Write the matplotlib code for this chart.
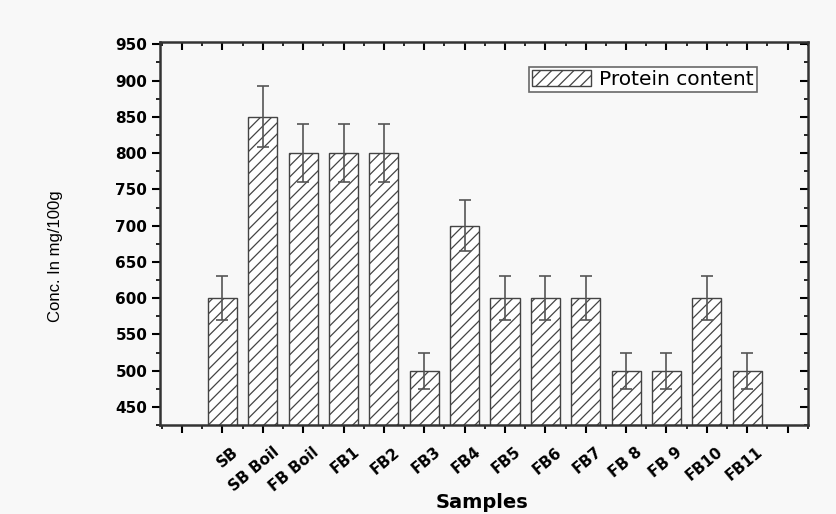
import matplotlib
matplotlib.use("Agg")
import matplotlib.pyplot as plt
import matplotlib.markers as mmarkers
import matplotlib.transforms as mtransforms
from matplotlib.ticker import MultipleLocator
import numpy as np

plt.rcParams['font.family'] = ['DejaVu Sans']
plt.rcParams['hatch.linewidth'] = 0.9
plt.rcParams['hatch.color'] = '#555555'

samples = ["SB", "SB Boil", "FB Boil", "FB1", "FB2", "FB3", "FB4", "FB5",
           "FB6", "FB7", "FB 8", "FB 9", "FB10", "FB11"]
protein = [600, 850, 800, 800, 800, 500, 700, 600, 600, 600, 500, 500, 600, 500]
errors = [30, 42, 40, 40, 40, 25, 35, 30, 30, 30, 25, 25, 30, 25]
yticks = [450, 500, 550, 600, 650, 700, 750, 800, 850, 900, 950]

bg = '#f8f8f8'
fig = plt.figure(figsize=(8.37, 5.14), dpi=100, facecolor=bg)
ax = fig.add_axes([0.191, 0.173, 0.774, 0.745], facecolor=bg)

x = np.arange(1, len(samples) + 1)
ax.bar(x, protein, width=0.72, color='white', edgecolor='#444444',
       linewidth=1.0, hatch='///', label='Protein content', zorder=2)
ax.errorbar(x, protein, yerr=errors, fmt='none', ecolor='#555555',
            elinewidth=1.2, capsize=4.3, capthick=1.2, zorder=3)

ax.set_xlim(-0.55, 15.5)
ax.set_ylim(425, 953)
ax.xaxis.set_minor_locator(MultipleLocator(0.5))
ax.yaxis.set_minor_locator(MultipleLocator(25))

ax.tick_params(axis='both', which='major', direction='out', length=6,
               width=1.5, top=True, right=True)
ax.tick_params(axis='both', which='minor', direction='out', length=3,
               width=1.2, top=True, right=True)
ax.tick_params(axis='x', which='major', pad=12)
ax.tick_params(axis='y', which='major', pad=3)

ax.set_xticks(np.arange(0, 16))
ax.set_xticklabels([''] + samples + [''], rotation=40, ha='right', va='center',
                   rotation_mode='anchor', fontsize=11, fontweight='bold')
shift = mtransforms.ScaledTranslation(14 / 100, 0, fig.dpi_scale_trans)
for lab in ax.get_xticklabels():
    lab.set_transform(lab.get_transform() + shift)
ax.set_yticks(yticks)
ax.set_yticklabels([str(v) for v in yticks], fontsize=11, fontweight='bold')

# top and right ticks point inwards
for t in ax.xaxis.get_major_ticks() + ax.xaxis.get_minor_ticks():
    t.tick2line.set_marker(mmarkers.TICKDOWN)
for t in ax.yaxis.get_major_ticks() + ax.yaxis.get_minor_ticks():
    t.tick2line.set_marker(mmarkers.TICKLEFT)

for s in ax.spines.values():
    s.set_linewidth(1.8)
    s.set_color('#333333')

ax.set_xlabel('Samples', fontsize=14, fontweight='bold')
ax.xaxis.set_label_coords(0.497, -0.178)
ax.xaxis.label.set_va('top')
ax.set_ylabel('Conc. In mg/100g', fontsize=12, family=['Liberation Sans'])
ax.yaxis.set_label_coords(-0.150, 0.44)

leg = ax.legend(loc='upper right', bbox_to_anchor=(0.921, 0.935), fontsize=14.5,
                frameon=True, fancybox=False, handlelength=2.9,
                handleheight=0.85, borderpad=0.15, handletextpad=0.4,
                borderaxespad=0)
leg.get_frame().set_edgecolor('#444444')
leg.get_frame().set_linewidth(1.2)
leg.get_frame().set_facecolor('white')

fig.savefig('out.png', dpi=100, facecolor=bg)
